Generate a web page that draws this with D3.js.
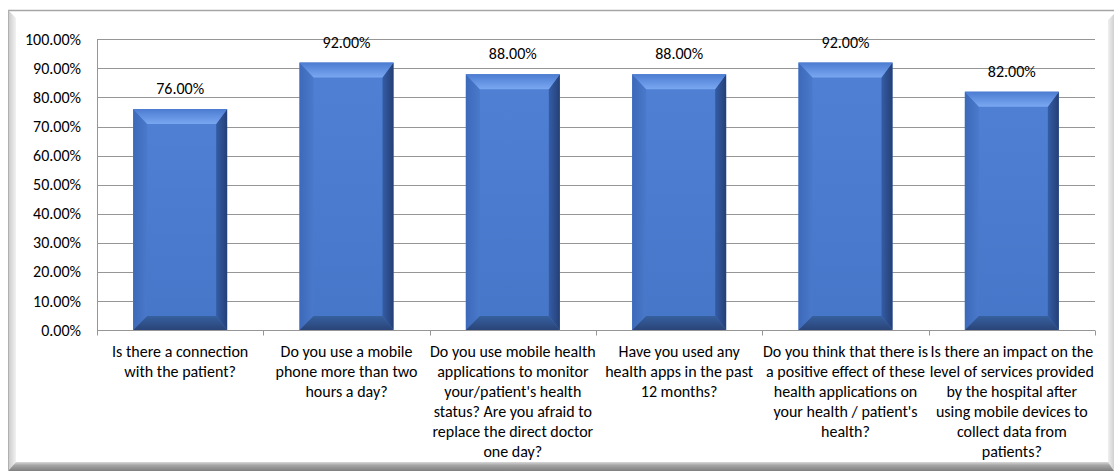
<!DOCTYPE html>
<html>
<head>
<meta charset="utf-8">
<script src="https://cdn.jsdelivr.net/npm/d3@7"></script>
<style>
  html, body { margin: 0; padding: 0; background: #ffffff; }
  svg { display: block; }
  text { font-family: Carlito, Lato, "Liberation Sans", sans-serif; fill: #000; }
</style>
</head>
<body>
<svg id="chart" width="1114" height="471"></svg>
<script>
// ---- data ----
const categories = [
  "Is there a connection with the patient?",
  "Do you use a mobile phone more than two hours a day?",
  "Do you use mobile health applications to monitor your/patient's health status? Are you afraid to replace the direct doctor one day?",
  "Have you used any health apps in the past 12 months?",
  "Do you think that there is a positive effect of these health applications on your health / patient's health?",
  "Is there an impact on the level of services provided by the hospital after using mobile devices to collect data from patients?"
];
const categoryLines = [
  ["Is there a connection", "with the patient?"],
  ["Do you use a mobile", "phone more than two", "hours a day?"],
  ["Do you use mobile health", "applications to monitor", "your/patient's health", "status? Are you afraid to", "replace the direct doctor", "one day?"],
  ["Have you used any", "health apps in the past", "12 months?"],
  ["Do you think that there is", "a positive effect of these", "health applications on", "your health / patient's", "health?"],
  ["Is there an impact on the", "level of services provided", "by the hospital after", "using mobile devices to", "collect data from", "patients?"]
];
const values = [0.76, 0.92, 0.88, 0.88, 0.92, 0.82];
const yTicks = [0, 0.1, 0.2, 0.3, 0.4, 0.5, 0.6, 0.7, 0.8, 0.9, 1.0];

// ---- layout ----
const W = 1114, H = 471;
const plot = { left: 97, right: 1095, top: 39.3, bottom: 330 };
const FS = 16;
const svg = d3.select("#chart");
const defs = svg.append("defs");

// chart-area frame with bevel
const frame = svg.append("g");
const gL = defs.append("linearGradient").attr("id", "bevL").attr("x1", 0).attr("x2", 1).attr("y1", 0).attr("y2", 0);
gL.append("stop").attr("offset", 0).attr("stop-color", "#c8c8c8");
gL.append("stop").attr("offset", 1).attr("stop-color", "#f2f2f2");
const gB = defs.append("linearGradient").attr("id", "bevB").attr("x1", 0).attr("x2", 0).attr("y1", 0).attr("y2", 1);
gB.append("stop").attr("offset", 0).attr("stop-color", "#d9d9d9");
gB.append("stop").attr("offset", 0.35).attr("stop-color", "#a6a6a6");
gB.append("stop").attr("offset", 1).attr("stop-color", "#7f7f7f");
const gR = defs.append("linearGradient").attr("id", "bevR").attr("x1", 0).attr("x2", 1).attr("y1", 0).attr("y2", 0);
gR.append("stop").attr("offset", 0).attr("stop-color", "#f0f0f0");
gR.append("stop").attr("offset", 1).attr("stop-color", "#d0d0d0");

const fx0 = 8, fy0 = 10, fx1 = 1114, fy1 = 471;
frame.append("rect").attr("x", fx0).attr("y", fy0).attr("width", fx1 - fx0).attr("height", fy1 - fy0)
  .attr("fill", "#ffffff");
frame.append("path").attr("fill", "url(#bevL)")
  .attr("d", `M${fx0},${fy0} L${fx0 + 8},${fy0 + 8} L${fx0 + 8},${fy1 - 9} L${fx0},${fy1} Z`);
frame.append("path").attr("fill", "url(#bevR)")
  .attr("d", `M${fx1},${fy0 + 4} L${fx1 - 6},${fy0 + 10} L${fx1 - 6},${fy1 - 9} L${fx1},${fy1} Z`);
frame.append("path").attr("fill", "url(#bevB)")
  .attr("d", `M${fx0},${fy1} L${fx0 + 8},${fy1 - 9} L${fx1 - 6},${fy1 - 9} L${fx1},${fy1} Z`);
frame.append("line").attr("x1", fx0).attr("x2", fx1).attr("y1", fy0 + 0.5).attr("y2", fy0 + 0.5)
  .attr("stroke", "#a6a6a6").attr("stroke-width", 1.5);
frame.append("line").attr("x1", fx0 + 0.5).attr("x2", fx0 + 0.5).attr("y1", fy0).attr("y2", fy1)
  .attr("stroke", "#b0b0b0").attr("stroke-width", 1);

// scales
const x = d3.scaleBand().domain(d3.range(categories.length))
  .range([plot.left, plot.right]).paddingInner(0.435).paddingOuter(0.2175);
const y = d3.scaleLinear().domain([0, 1]).range([plot.bottom, plot.top]);

// gridlines
svg.append("g").selectAll("line").data(yTicks.slice(1)).join("line")
  .attr("x1", plot.left).attr("x2", plot.right)
  .attr("y1", d => Math.round(y(d)) + 0.5).attr("y2", d => Math.round(y(d)) + 0.5)
  .attr("stroke", "#969696").attr("stroke-width", 1);

// y axis
const yAxis = svg.append("g").attr("transform", `translate(${plot.left},0)`)
  .call(d3.axisLeft(y).tickValues(yTicks).tickFormat(d3.format(".2%")).tickSize(0).tickPadding(16));
yAxis.select(".domain").attr("stroke", "#969696");
yAxis.selectAll("text").attr("font-size", FS).attr("fill", "#000")
  .style("font-family", "Carlito, Lato, 'Liberation Sans', sans-serif");

// x axis
const step = x.step();
const xAxisG = svg.append("g").attr("transform", `translate(0,${Math.round(plot.bottom) + 0.5})`);
xAxisG.append("line").attr("x1", plot.left).attr("x2", plot.right).attr("stroke", "#969696");
xAxisG.selectAll("line.tick").data(d3.range(categories.length + 1)).join("line").attr("class", "tick")
  .attr("x1", i => Math.round(plot.left + i * step) + 0.5).attr("x2", i => Math.round(plot.left + i * step) + 0.5)
  .attr("y1", 0).attr("y2", 5).attr("stroke", "#969696");

// bar gradients
function grad(id, x1, y1, x2, y2, stops) {
  const g = defs.append("linearGradient").attr("id", id)
    .attr("x1", x1).attr("y1", y1).attr("x2", x2).attr("y2", y2);
  stops.forEach(s => g.append("stop").attr("offset", s[0]).attr("stop-color", s[1]));
}
grad("bFace", 0, 0, 0, 1, [[0, "#4f80d4"], [1, "#4676c8"]]);
grad("bTop", 0, 0, 0, 1, [[0, "#4c7cd0"], [0.55, "#6594e4"], [1, "#7aa7f0"]]);
grad("bLeft", 0, 0, 1, 0, [[0, "#3d69b9"], [1, "#4a79cb"]]);
grad("bRight", 0, 0, 1, 0, [[0, "#345da6"], [1, "#253f76"]]);
grad("bBot", 0, 0, 0, 1, [[0, "#36609f"], [1, "#2a4478"]]);

// bars
const bars = svg.append("g").selectAll("g").data(values).join("g");
bars.each(function (v, i) {
  const g = d3.select(this);
  const x0 = x(i), x1 = x(i) + x.bandwidth();
  const yt = y(v), yb = y(0);
  const bl = 14, br = 11, bt = 15, bb = 14;
  g.append("rect").attr("x", x0).attr("y", yt).attr("width", x1 - x0).attr("height", yb - yt).attr("fill", "url(#bFace)");
  g.append("path").attr("fill", "url(#bLeft)")
    .attr("d", `M${x0},${yt} L${x0 + bl},${yt + bt} L${x0 + bl},${yb - bb} L${x0},${yb} Z`);
  g.append("path").attr("fill", "url(#bRight)")
    .attr("d", `M${x1},${yt} L${x1},${yb} L${x1 - br},${yb - bb} L${x1 - br},${yt + bt} Z`);
  g.append("path").attr("fill", "url(#bBot)")
    .attr("d", `M${x0},${yb} L${x1},${yb} L${x1 - br},${yb - bb} L${x0 + bl},${yb - bb} Z`);
  g.append("path").attr("fill", "url(#bTop)")
    .attr("d", `M${x0},${yt} L${x1},${yt} L${x1 - br},${yt + bt} L${x0 + bl},${yt + bt} Z`);
});

// value labels
svg.append("g").selectAll("text").data(values).join("text")
  .attr("x", (d, i) => x(i) + x.bandwidth() / 2)
  .attr("y", d => y(d) - 15)
  .attr("text-anchor", "middle").attr("font-size", FS)
  .text(d => d3.format(".2%")(d));

// category labels
const catG = svg.append("g").selectAll("text").data(categoryLines).join("text")
  .attr("text-anchor", "middle").attr("font-size", FS);
catG.each(function (lines, i) {
  const t = d3.select(this);
  lines.forEach((ln, k) => {
    t.append("tspan").attr("x", x(i) + x.bandwidth() / 2).attr("y", plot.bottom + 27 + k * 20).text(ln);
  });
});
</script>
</body>
</html>
